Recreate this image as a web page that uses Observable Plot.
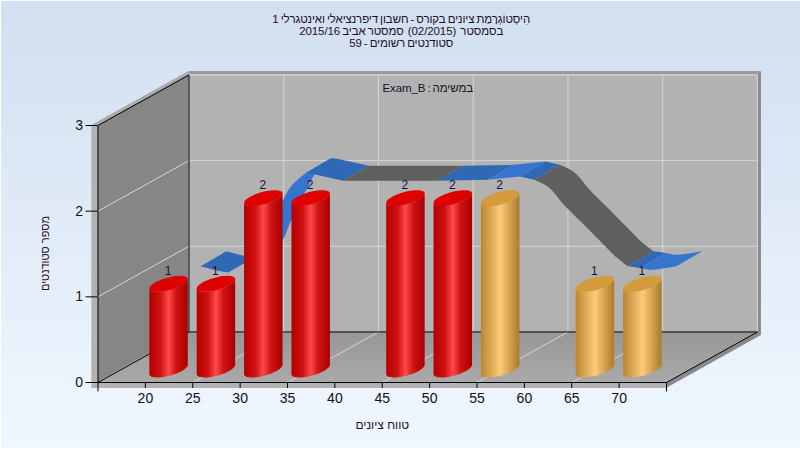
<!DOCTYPE html>
<html lang="he">
<head>
<meta charset="utf-8">
<script src="https://cdn.jsdelivr.net/npm/d3@7"></script>
<script src="https://cdn.jsdelivr.net/npm/@observablehq/plot@0.6"></script>
<style>
html,body{margin:0;padding:0;background:#fff;}
#page{width:799px;height:447px;margin:1px 0 0 1px;background:linear-gradient(#d2dff0,#f0f7ff);overflow:hidden;position:relative;}
#chart{position:absolute;left:-1px;top:-1px;}
.rtl text{direction:rtl;white-space:pre;}
.tight text{letter-spacing:-0.1px;word-spacing:-1px;}
</style>
</head>
<body>
<div id="page"><div id="chart"></div></div>
<script>
// ---- chart text ----
const titleLines = [
  "הִיסְטוֹגְרָמַת ציונים בקורס - חשבון דיפרנציאלי ואינטגרלי 1",
  "בסמסטר  (02/2015)  סמסטר אביב 2015/16",
  "סטודנטים רשומים - 59"
];
const taskLabel = "במשימה : Exam_B";
const xTitle = "טווח ציונים";
const yTitle = "מספר סטודנטים";

// ---- values ----
const binStarts = [20, 25, 30, 35, 45, 50, 55, 65, 70];
const counts    = [ 1,  1,  2,  2,  2,  2,  2,  1,  1];
const passFrom = 55;
const xTicks = [20, 25, 30, 35, 40, 45, 50, 55, 60, 65, 70];
const yTicks = [0, 1, 2, 3];
const xGrid = [25, 35, 45, 55, 65];

// trend ribbon (score, count)
const trendScore = [22.5, 24.3, 25.46, 27.05, 28.4, 29.26, 31.13, 32.0, 33.6, 34.66, 37.5, 47.5, 52.8, 56.2, 57.7, 59.29, 60.77, 62.67, 65.1, 66.37, 67.6, 68.9, 70.05, 72.7];
const trendCount = [1.0, 0.95, 0.93, 1.035, 1.13, 1.34, 1.756, 1.93, 2.09, 2.07, 2.0, 2.0, 2.01, 2.05, 2.01, 1.918, 1.729, 1.518, 1.247, 1.106, 1.0, 0.98, 0.96, 1.0];
const trendBreaks = [[0, 2, "dark"], [2, 8, "light"], [8, 10, "dark"], [10, 11, "gray"], [11, 12, "dark"], [12, 13, "light"], [13, 14, "dark"], [14, 20, "gray"], [20, 21, "dark"], [21, 23, "light"]];

// ---- 3D projection, in data units ----
const depthX = 9.6, depthY = 0.59;          // box depth
const wallX = 0.65, wallY = 0.07;           // box wall thickness
const trendShiftX = 3.38, trendShiftY = 0.35; // ribbon's place inside the box
const bandX = 2.71, bandY = 0.175;          // ribbon's own depth
const barRadius = 2.03, barTilt = 0.055, barMinor = 0.075, barLift = 0.146;

const palette = {
  dark: "#2f69b6", light: "#3575d0", gray: "#5f5f5f",
  wallSide: "#868686", wallBack: "#b2b2b2", rim: "#b2b2b2", rimDark: "#8a8a8a",
  grid: "#d6d6d6", redTop: "#df0000", orangeTop: "#d59b3a", ink: "#1c1028"
};

const quad = (a, b, c, d, fill) => Plot.area(
  [{x1: a[0], y1: a[1], x2: d[0], y2: d[1]}, {x1: b[0], y1: b[1], x2: c[0], y2: c[1]}],
  {x1: "x1", y1: "y1", x2: "x2", y2: "y2", fill});
const seg = (pts, stroke, sw = 1) => Plot.link(pts, {x1: d => d[0], y1: d => d[1], x2: d => d[2], y2: d => d[3], stroke, strokeWidth: sw});

const [x0, x1] = [15, 75], ymax = 3;

// box shell and walls
const shell = [
  quad([x0 - wallX, -wallY], [x0 - wallX, ymax], [x0, ymax], [x0, -wallY], palette.rim),
  quad([x0 - wallX, -wallY], [x1, -wallY], [x1, 0], [x0, 0], palette.rim),
  quad([x0 - wallX, ymax], [x0 + depthX, ymax + depthY + 0.04], [x0 + depthX, ymax + depthY], [x0, ymax], "#a9a9a9"),
  quad([x0 + depthX, ymax + depthY], [x0 + depthX, ymax + depthY + 0.04], [x1 + depthX + 0.42, ymax + depthY + 0.04], [x1 + depthX, ymax + depthY], "#9a9a9a"),
  quad([x1 + depthX, depthY - 0.04], [x1 + depthX, ymax + depthY], [x1 + depthX + 0.42, ymax + depthY + 0.04], [x1 + depthX + 0.42, depthY - 0.04], palette.rimDark),
  quad([x1, -wallY], [x1, 0], [x1 + depthX, depthY], [x1 + depthX + 0.42, depthY - 0.04], palette.rimDark),
  quad([x0, 0], [x0, ymax], [x0 + depthX, ymax + depthY], [x0 + depthX, depthY], palette.wallSide),
  quad([x0 + depthX, depthY], [x0 + depthX, ymax + depthY], [x1 + depthX, ymax + depthY], [x1 + depthX, depthY], palette.wallBack),
  quad([x0, 0], [x0 + depthX, depthY], [x1 + depthX, depthY], [x1, 0], "url(#floorFill)")
];

// grid
const gridLines = [
  seg(xGrid.map(v => [v, 0, v + depthX, depthY]), palette.grid),
  seg(xGrid.map(v => [v + depthX, depthY, v + depthX, ymax + depthY]), palette.grid),
  seg([1, 2].map(v => [x0, v, x0 + depthX, v + depthY]), palette.grid),
  seg([1, 2, 3].map(v => [x0 + depthX, v + depthY, x1 + depthX, v + depthY]), palette.grid),
  seg([[x1 + depthX, depthY, x1 + depthX, ymax + depthY]], palette.grid)
];

// box edges
const edges = seg([
  [x0, 0, x0, ymax],
  [x0, ymax, x0 + depthX, ymax + depthY],
  [x0 + depthX, depthY, x0 + depthX, ymax + depthY],
  [x0, 0, x0 + depthX, depthY],
  [x0 + depthX, depthY, x1 + depthX, depthY],
  [x1, 0, x1 + depthX, depthY]
], "#000");

// ribbon
const ribbon = trendBreaks.map(([from, to, tone]) => Plot.area(
  d3.range(from, to + 1).map(i => ({
    x1: trendScore[i] + trendShiftX, y1: trendCount[i] + trendShiftY,
    x2: trendScore[i] + trendShiftX + bandX, y2: trendCount[i] + trendShiftY + bandY
  })),
  {x1: "x1", y1: "y1", x2: "x2", y2: "y2", fill: palette[tone], curve: "catmull-rom"}
));

// cylinders
const bars = binStarts.map((s, i) => ({id: i, score: s + 2.5, count: counts[i], pass: s >= passFrom}));
const arc = d3.range(0, 33).map(i => (i / 32) * Math.PI);
const bodies = bars.flatMap(b => arc.map(t => {
  const off = barRadius * -Math.cos(t);
  const rise = barLift + barTilt * -Math.cos(t) - barMinor * Math.sin(t);
  return {id: b.id, pass: b.pass, x: b.score + off, lo: rise, hi: b.count + rise};
}));
const tops = bars.flatMap(b => arc.map(t => {
  const off = barRadius * -Math.cos(t);
  const c = b.count + barLift + barTilt * -Math.cos(t);
  return {id: b.id, pass: b.pass, x: b.score + off, lo: c - barMinor * Math.sin(t), hi: c + barMinor * Math.sin(t)};
}));
const cyl = pass => [
  Plot.areaY(bodies.filter(d => d.pass === pass), {x: "x", y1: "lo", y2: "hi", z: "id", fill: pass ? "url(#orangeBody)" : "url(#redBody)"}),
  Plot.areaY(tops.filter(d => d.pass === pass), {x: "x", y1: "lo", y2: "hi", z: "id", fill: pass ? palette.orangeTop : palette.redTop})
];

const chart = Plot.plot({
  width: 800, height: 450,
  marginLeft: 97.5, marginRight: 134, marginTop: 125, marginBottom: 68,
  x: {domain: [x0, x1]},
  y: {domain: [0, ymax]},
  style: {background: "transparent", fontFamily: "'Liberation Sans', Arial, sans-serif", overflow: "visible"},
  marks: [
    ...shell, ...gridLines, edges,
    ...ribbon,
    ...cyl(false), ...cyl(true),
    Plot.text(bars, {x: "score", y: "count", text: "count", dy: -26, dx: -1, fontSize: 12, fill: palette.ink}),
    Plot.ruleY([0], {x1: x0, x2: x1, stroke: "#000"}),
    Plot.ruleX([x0, x1], {y1: 0, y2: -0.11, stroke: "#000"}),
    Plot.axisX(xTicks, {anchor: "bottom", tickSize: 6, tickPadding: 5, fontSize: 14, label: null, tickFormat: d => d, color: "#000", fill: "#111"}),
    Plot.axisY(yTicks, {anchor: "left", tickSize: 12, tickPadding: 3, fontSize: 14, label: null, tickFormat: d => d, color: "#000", fill: "#111"}),
    Plot.text(titleLines, {x: 47, y: (d, i) => 4.237 - i * 0.14, text: d => d, fontSize: 11.5, fill: palette.ink, className: "rtl tight"}),
    Plot.text([taskLabel], {x: 49.8, y: 3.432, text: d => d, fontSize: 11.5, fill: palette.ink, className: "rtl tight"}),
    Plot.text([xTitle], {x: 45, y: -0.5, text: d => d, fontSize: 12, fill: palette.ink, className: "rtl"}),
    Plot.text([yTitle], {x: 9.45, y: 1.506, text: d => d, rotate: -90, fontSize: 11, fill: palette.ink, className: "rtl"})
  ]
});

// gradients used by the fills above
const defs = document.createElementNS("http://www.w3.org/2000/svg", "defs");
const grad = (id, stops, vertical) => {
  const g = document.createElementNS("http://www.w3.org/2000/svg", "linearGradient");
  g.setAttribute("id", id);
  if (vertical) { g.setAttribute("x2", "0"); g.setAttribute("y2", "1"); }
  for (const [o, c] of stops) {
    const s = document.createElementNS("http://www.w3.org/2000/svg", "stop");
    s.setAttribute("offset", o);
    s.setAttribute("stop-color", c);
    g.appendChild(s);
  }
  defs.appendChild(g);
};
grad("redBody", [[0, "#b40000"], [0.3, "#d01212"], [0.5, "#ff4a4a"], [0.7, "#d01212"], [1, "#a80000"]]);
grad("orangeBody", [[0, "#b98630"], [0.5, "#fdca7a"], [1, "#a97b2a"]]);
grad("floorFill", [[0, "#979797"], [1, "#a9a9a9"]], true);
chart.insertBefore(defs, chart.firstChild);
document.getElementById("chart").appendChild(chart);
</script>
</body>
</html>
